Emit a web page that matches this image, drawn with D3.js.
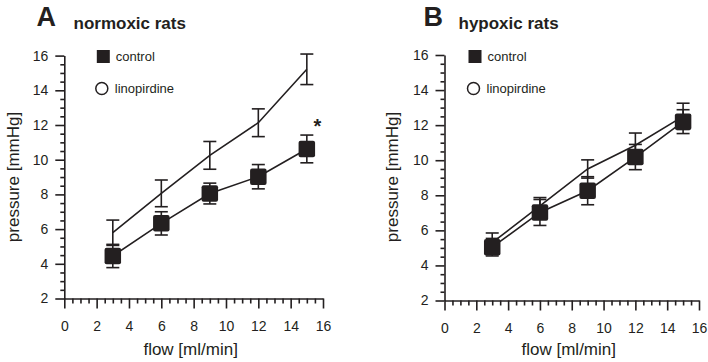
<!DOCTYPE html>
<html><head><meta charset="utf-8">
<script src="https://cdn.jsdelivr.net/npm/d3@7"></script>
<style>body{margin:0;background:#fff;}svg{display:block;font-family:"Liberation Sans",Arial,sans-serif;}</style>
</head><body><svg id="c" width="708" height="362"></svg>
<script>
// ---- data ----
const flow = [3, 6, 9, 12, 15];
const xTicks = [0, 2, 4, 6, 8, 10, 12, 14, 16];
const yTicks = [2, 4, 6, 8, 10, 12, 14, 16];
const seriesNames = ["control", "linopirdine"];
// Panel A: normoxic rats
const normoxicControl = [4.45, 6.33, 8.05, 9.02, 10.62];
const normoxicControlErr = [0.67, 0.67, 0.6, 0.7, 0.8];
const normoxicLino = [5.79, 8.06, 10.25, 12.13, 15.21];
const normoxicLinoErr = [0.73, 0.77, 0.8, 0.8, 0.88];
// Panel B: hypoxic rats
const hypoxicControl = [5.04, 7.02, 8.26, 10.18, 12.2];
const hypoxicControlErr = [0.5, 0.74, 0.8, 0.72, 0.68];
const hypoxicLino = [5.3, 7.4, 9.5, 10.85, 12.5];
const hypoxicLinoErr = [0.55, 0.47, 0.52, 0.7, 0.75];
const panelLetters = ["A", "B"];
const panelTitles = ["normoxic rats", "hypoxic rats"];
const xLabel = "flow [ml/min]";
const yLabel = "pressure [mmHg]";

const ink = "#231f20";
const svg = d3.select("#c");

const panels = [
  {letter: panelLetters[0], title: panelTitles[0], ctrl: normoxicControl, ctrlE: normoxicControlErr, lino: normoxicLino, linoE: normoxicLinoErr,
   xr: [64.3, 323], yr: [298.5, 55.6], letterX: 36.5, titleX: 73.5, ylabX: 19, star: true, legX: 103.3},
  {letter: panelLetters[1], title: panelTitles[1], ctrl: hypoxicControl, ctrlE: hypoxicControlErr, lino: hypoxicLino, linoE: hypoxicLinoErr,
   xr: [444.5, 699], yr: [300.5, 55], letterX: 423.5, titleX: 458.5, ylabX: 398, star: false, legX: 475}
];

panels.forEach(p => {
  const x = d3.scaleLinear().domain([0, 16]).range(p.xr);
  const y = d3.scaleLinear().domain([2, 16]).range(p.yr);
  const g = svg.append("g");

  // minor ticks
  const minorX = d3.range(0, 16.01, 0.5).filter(v => v % 2 !== 0);
  const minorY = d3.range(2, 16.01, 0.5).filter(v => v % 2 !== 0);
  g.append("g").attr("transform", `translate(0,${p.yr[0]})`)
    .call(d3.axisBottom(x).tickValues(minorX).tickSize(5).tickFormat(""))
    .call(a => a.select(".domain").remove());
  g.append("g").attr("transform", `translate(${p.xr[0]},0)`)
    .call(d3.axisLeft(y).tickValues(minorY).tickSize(4).tickFormat(""))
    .call(a => a.select(".domain").remove());
  // major axes
  g.append("g").attr("transform", `translate(0,${p.yr[0]})`)
    .call(d3.axisBottom(x).tickValues(xTicks).tickSize(10).tickSizeOuter(0).tickPadding(13).tickFormat(d3.format("d")));
  g.append("g").attr("transform", `translate(${p.xr[0]},0)`)
    .call(d3.axisLeft(y).tickValues(yTicks).tickSize(9).tickSizeOuter(0).tickPadding(7).tickFormat(d3.format("d")));
  g.selectAll(".domain, .tick line").attr("stroke", ink).attr("stroke-width", 1.6);
  g.selectAll(".tick text").attr("fill", ink).style("font-size", "14px").style("font-family", '"Liberation Sans",Arial,sans-serif');

  // lines
  const line = d3.line().x((d, i) => x(flow[i])).y(d => y(d));
  g.append("path").datum(p.lino).attr("d", line).attr("fill", "none").attr("stroke", ink).attr("stroke-width", 1.6);
  g.append("path").datum(p.ctrl).attr("d", line).attr("fill", "none").attr("stroke", ink).attr("stroke-width", 1.6);

  // error bars
  const cap = 6.5;
  function errBars(vals, errs) {
    vals.forEach((v, i) => {
      const cx = x(flow[i]), y1 = y(v + errs[i]), y0 = y(v - errs[i]);
      g.append("line").attr("x1", cx).attr("x2", cx).attr("y1", y1).attr("y2", y0).attr("stroke", ink).attr("stroke-width", 1.6);
      [y1, y0].forEach(yy => g.append("line").attr("x1", cx - cap).attr("x2", cx + cap).attr("y1", yy).attr("y2", yy).attr("stroke", ink).attr("stroke-width", 1.6));
    });
  }
  errBars(p.lino, p.linoE);
  errBars(p.ctrl, p.ctrlE);

  // control squares
  const s = 16.5;
  g.selectAll(".sq").data(p.ctrl).enter().append("rect")
    .attr("x", (d, i) => x(flow[i]) - s / 2).attr("y", d => y(d) - s / 2)
    .attr("width", s).attr("height", s).attr("rx", 2).attr("fill", ink);

  if (p.star) {
    g.append("text").attr("x", x(flow[4]) + 10.5).attr("y", y(p.ctrl[4] + p.ctrlE[4]) - 2)
      .attr("text-anchor", "middle").style("font-size", "20px").style("font-weight", "bold").attr("fill", ink).text("*");
  }

  // legend
  g.append("rect").attr("x", p.legX - 6.5).attr("y", 50).attr("width", 13).attr("height", 13).attr("fill", ink);
  g.append("text").attr("x", p.legX + 12.5).attr("y", 61).style("font-size", "13px").attr("fill", ink).text(seriesNames[0]);
  g.append("circle").attr("cx", p.legX - 1.5).attr("cy", 88.5).attr("r", 6).attr("fill", "#fff").attr("stroke", ink).attr("stroke-width", 1.5);
  g.append("text").attr("x", p.legX + 11.5).attr("y", 93).style("font-size", "13px").attr("fill", ink).text(seriesNames[1]);

  // titles
  g.append("text").attr("x", p.letterX).attr("y", 26).style("font-size", "27px").style("font-weight", "bold").attr("fill", ink).text(p.letter);
  g.append("text").attr("x", p.titleX).attr("y", 28.5).style("font-size", "17px").style("font-weight", "bold").attr("fill", ink).text(p.title);

  // axis labels
  g.append("text").attr("x", (p.xr[0] + p.xr[1]) / 2 - 3).attr("y", 355).attr("text-anchor", "middle")
    .style("font-size", "17px").attr("fill", ink).text(xLabel);
  g.append("text").attr("transform", `translate(${p.ylabX},177) rotate(-90)`).attr("text-anchor", "middle")
    .style("font-size", "17px").attr("fill", ink).text(yLabel);
});
</script>
</body></html>
